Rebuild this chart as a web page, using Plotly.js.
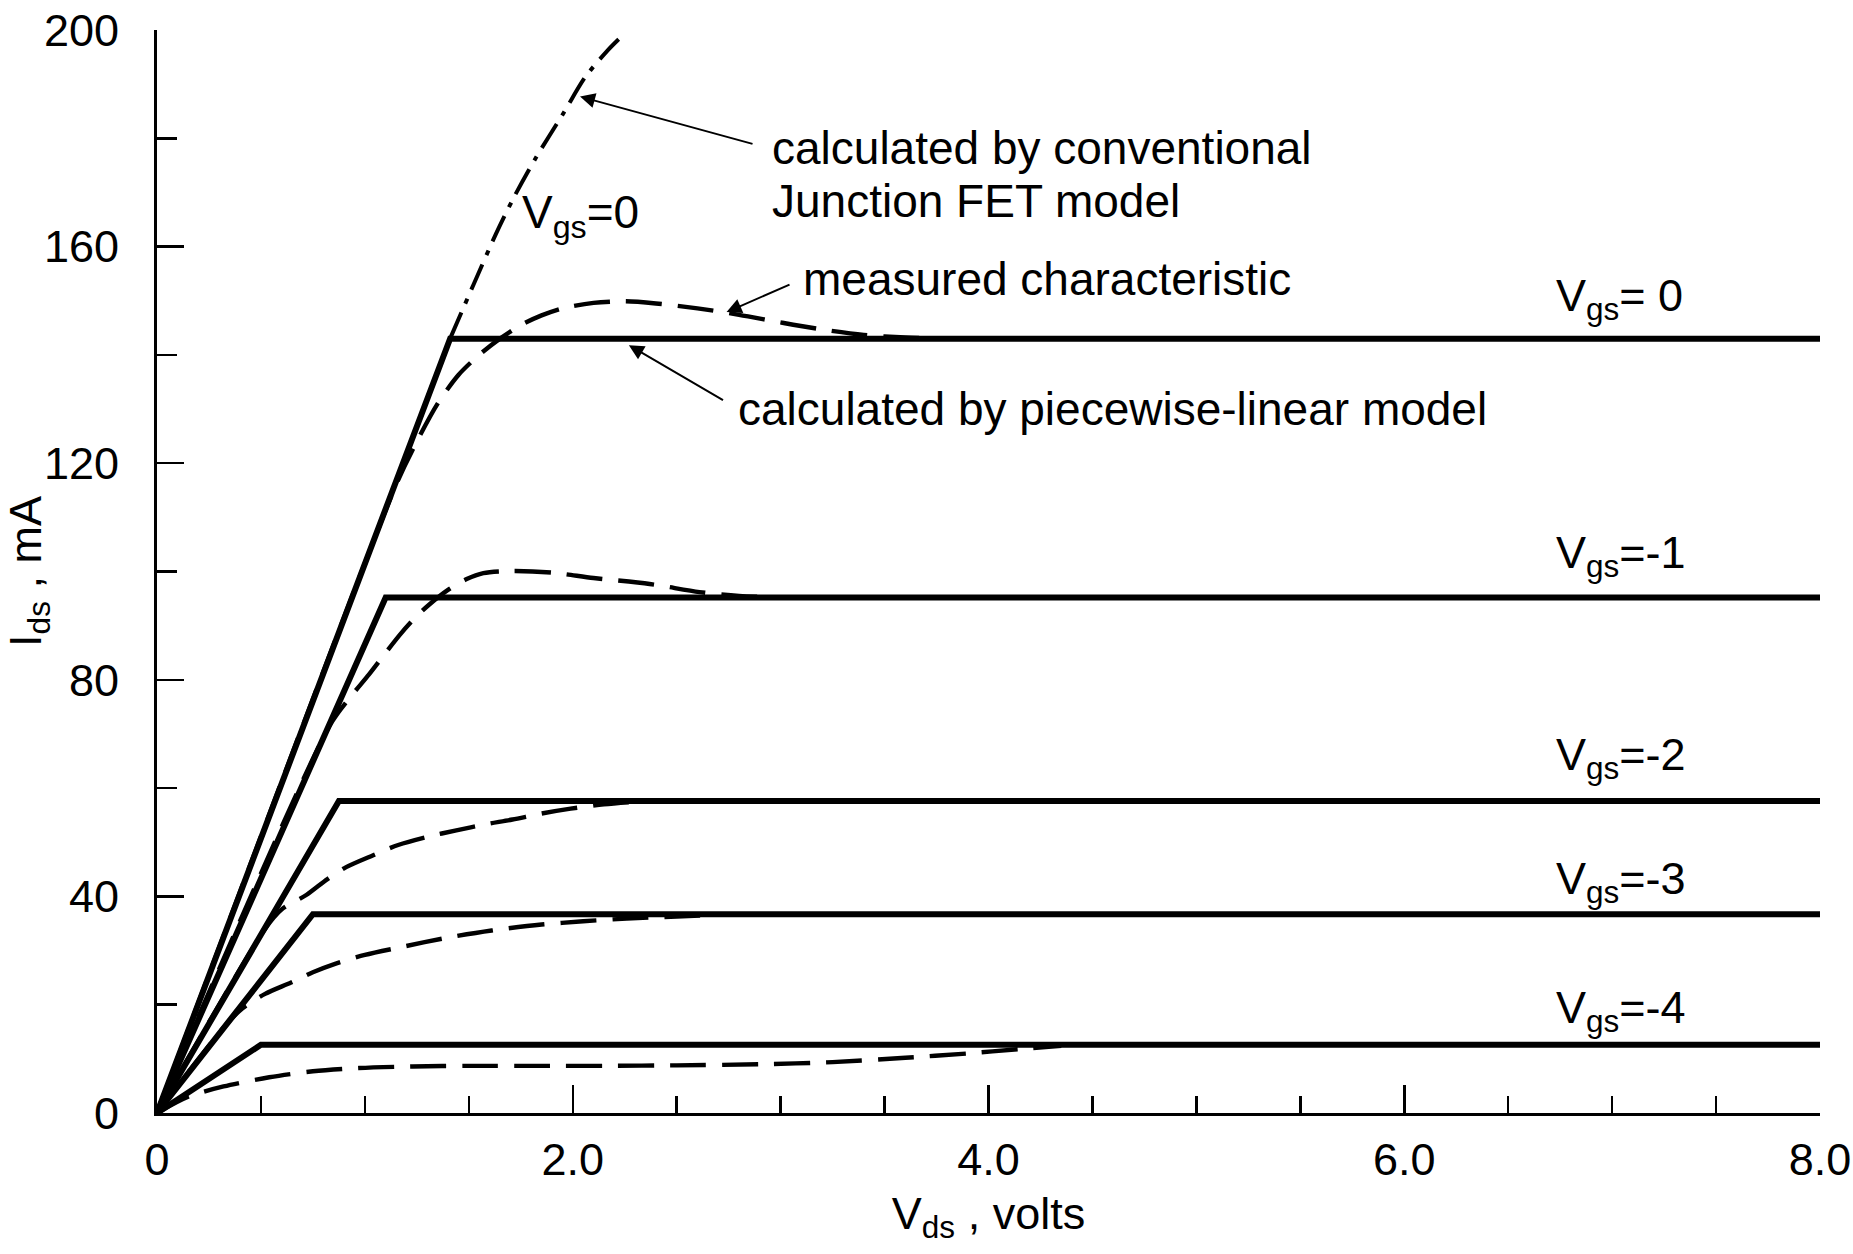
<!DOCTYPE html>
<html>
<head>
<meta charset="utf-8">
<script src="https://cdn.plot.ly/plotly-3.0.1.min.js"></script>
<style>
html,body{margin:0;padding:0;background:#fff;}
#chart{width:1853px;height:1254px;}
</style>
</head>
<body>
<div id="chart"></div>
<script>
// ---------- Data ----------
// Piecewise-linear model (solid), per gate voltage
const pwlVds0 = [0, 1.41, 8.0];  const pwlIds0 = [0, 143.0, 143.0];
const pwlVds1 = [0, 1.10, 8.0];  const pwlIds1 = [0, 95.2, 95.2];
const pwlVds2 = [0, 0.875, 8.0]; const pwlIds2 = [0, 57.6, 57.6];
const pwlVds3 = [0, 0.75, 8.0];  const pwlIds3 = [0, 36.7, 36.7];
const pwlVds4 = [0, 0.50, 8.0];  const pwlIds4 = [0, 12.6, 12.6];

// Measured characteristic (dashed)
const measVds0 = [0, 1.15, 1.25, 1.35, 1.45, 1.55, 1.65, 1.75, 1.85, 1.95, 2.10, 2.25, 2.40, 2.60, 2.80, 3.00, 3.20, 3.40, 3.60, 3.80];
const measIds0 = [0, 116.0, 124.0, 131.0, 136.3, 140.0, 143.0, 145.5, 147.3, 148.6, 149.6, 149.9, 149.5, 148.6, 147.4, 146.0, 144.7, 143.7, 143.2, 143.0];
const measVds1 = [0, 0.83, 0.93, 1.02, 1.10, 1.17, 1.24, 1.31, 1.40, 1.49, 1.57, 1.71, 1.90, 2.10, 2.37, 2.61, 2.80, 3.05];
const measIds1 = [0, 71.5, 76.8, 81.0, 85.0, 88.4, 91.4, 93.9, 96.6, 98.6, 99.7, 100.1, 99.8, 98.8, 97.7, 96.2, 95.5, 95.2];
const measVds2 = [0, 0.52, 0.60, 0.72, 0.82, 0.91, 1.04, 1.16, 1.30, 1.44, 1.58, 1.71, 1.85, 1.99, 2.15, 2.35];
const measIds2 = [0, 34.0, 37.6, 40.3, 43.2, 45.4, 47.6, 49.5, 51.0, 52.2, 53.3, 54.2, 55.3, 56.2, 57.0, 57.6];
const measVds3 = [0, 0.33, 0.41, 0.52, 0.645, 0.75, 0.86, 1.00, 1.17, 1.40, 1.61, 1.85, 2.05, 2.26, 2.50, 2.75];
const measIds3 = [0, 16.2, 19.3, 22.0, 24.1, 26.0, 27.6, 29.2, 30.6, 32.4, 33.7, 34.8, 35.4, 35.9, 36.3, 36.7];
const measVds4 = [0, 0.15, 0.32, 0.54, 0.75, 0.97, 1.23, 1.50, 1.85, 2.15, 2.50, 2.90, 3.25, 3.60, 3.90, 4.15, 4.35];
const measIds4 = [0, 3.0, 4.9, 6.6, 7.7, 8.3, 8.6, 8.7, 8.7, 8.7, 8.8, 9.0, 9.4, 10.2, 11.0, 11.8, 12.4];

// Conventional junction FET model, Vgs=0 (dash-dot)
const convVds = [1.41, 1.524, 1.63, 1.717, 1.824, 1.953, 2.06, 2.167, 2.24];
const convIds = [143.0, 153.1, 162.3, 169.1, 176.5, 184.5, 191.3, 196.2, 199.0];

// Tick labels
const xTickVals = [0, 2, 4, 6, 8];
const xTickText = ['0', '2.0', '4.0', '6.0', '8.0'];
const yTickVals = [0, 40, 80, 120, 160, 200];
const yTickText = ['0', '40', '80', '120', '160', '200'];

// Curve labels (right side)
const gateLabels = ['V<sub>gs</sub>= 0', 'V<sub>gs</sub>=-1', 'V<sub>gs</sub>=-2', 'V<sub>gs</sub>=-3', 'V<sub>gs</sub>=-4'];
const gateLabelX = [6.72, 6.72, 6.72, 6.72, 6.72];
const gateLabelY = [150.5, 103.0, 65.6, 42.7, 19.0];

// Explanatory notes and their arrows
const noteTexts = ['calculated by conventional', 'Junction FET model', 'measured characteristic', 'calculated by piecewise-linear model', 'V<sub>gs</sub>=0'];
const noteX = [2.948, 2.948, 3.098, 2.785, 1.746];
const noteY = [178.3, 168.5, 154.0, 130.0, 165.7];
const arrowHeadX = [2.035, 2.74, 2.27];
const arrowHeadY = [187.7, 147.9, 141.8];
const arrowTailX = [2.872, 3.05, 2.73];
const arrowTailY = [178.9, 153.1, 131.5];

// ---------- Build ----------
const FONT = 'Liberation Sans, Arial, sans-serif';
const solid = {color: 'black', width: 6};
const dashed = {color: 'black', width: 4.4, dash: '36px,16px', shape: 'spline', smoothing: 0.8};
const dashdot = {color: 'black', width: 4, dash: '28px,10px,5px,10px', shape: 'spline', smoothing: 0.8};

const traces = [];
[[pwlVds0, pwlIds0], [pwlVds1, pwlIds1], [pwlVds2, pwlIds2], [pwlVds3, pwlIds3], [pwlVds4, pwlIds4]].forEach(function (p, i) {
  traces.push({x: p[0], y: p[1], mode: 'lines', line: solid, name: 'piecewise-linear ' + i, cliponaxis: false});
});
[[measVds0, measIds0], [measVds1, measIds1], [measVds2, measIds2], [measVds3, measIds3], [measVds4, measIds4]].forEach(function (p, i) {
  traces.push({x: p[0], y: p[1], mode: 'lines', line: dashed, name: 'measured ' + i, cliponaxis: false});
});
traces.push({x: convVds, y: convIds, mode: 'lines', line: dashdot, name: 'conventional', cliponaxis: false});

const annotations = [];
gateLabels.forEach(function (t, i) {
  annotations.push({x: gateLabelX[i], y: gateLabelY[i], xref: 'x', yref: 'y', text: t, showarrow: false,
    xanchor: 'left', yanchor: 'middle', font: {family: FONT, size: 45, color: 'black'}});
});
noteTexts.forEach(function (t, i) {
  annotations.push({x: noteX[i], y: noteY[i], xref: 'x', yref: 'y', text: t, showarrow: false,
    xanchor: 'left', yanchor: 'middle', font: {family: FONT, size: 46, color: 'black'}});
});
arrowHeadX.forEach(function (hx, i) {
  annotations.push({x: hx, y: arrowHeadY[i], xref: 'x', yref: 'y', ax: arrowTailX[i], ay: arrowTailY[i],
    axref: 'x', ayref: 'y', text: '', showarrow: true, arrowhead: 2, arrowsize: 1.5, arrowwidth: 2,
    arrowcolor: 'black', standoff: 0, startstandoff: 0});
});

const layout = {
  width: 1853, height: 1254,
  margin: {l: 157, r: 33, t: 30, b: 141},
  paper_bgcolor: 'white', plot_bgcolor: 'white',
  showlegend: false,
  font: {family: FONT, color: 'black'},
  xaxis: {
    range: [0, 8], tickmode: 'array', tickvals: xTickVals, ticktext: xTickText,
    ticks: 'inside', ticklen: 28, tickwidth: 2.5, tickcolor: 'black',
    minor: {tick0: 0, dtick: 0.5, ticks: 'inside', ticklen: 17, tickwidth: 2.5, tickcolor: 'black', showgrid: false},
    showline: true, linewidth: 3, linecolor: 'black', showgrid: false, zeroline: false,
    tickfont: {family: FONT, size: 45, color: 'black'}, ticklabelstandoff: 5,
    title: {text: 'V<sub>ds</sub> , volts', font: {family: FONT, size: 45, color: 'black'}, standoff: 14}
  },
  yaxis: {
    range: [0, 200], tickmode: 'array', tickvals: yTickVals, ticktext: yTickText,
    ticks: 'inside', ticklen: 27, tickwidth: 2.5, tickcolor: 'black',
    minor: {tick0: 0, dtick: 20, ticks: 'inside', ticklen: 20, tickwidth: 2.5, tickcolor: 'black', showgrid: false},
    showline: true, linewidth: 3, linecolor: 'black', showgrid: false, zeroline: false,
    tickfont: {family: FONT, size: 45, color: 'black'}, ticklabelstandoff: 26,
    title: {text: 'I<sub>ds</sub> , mA', font: {family: FONT, size: 45, color: 'black'}, standoff: 6}
  },
  annotations: annotations
};

Plotly.newPlot('chart', traces, layout, {displayModeBar: false, staticPlot: true});
</script>
</body>
</html>
